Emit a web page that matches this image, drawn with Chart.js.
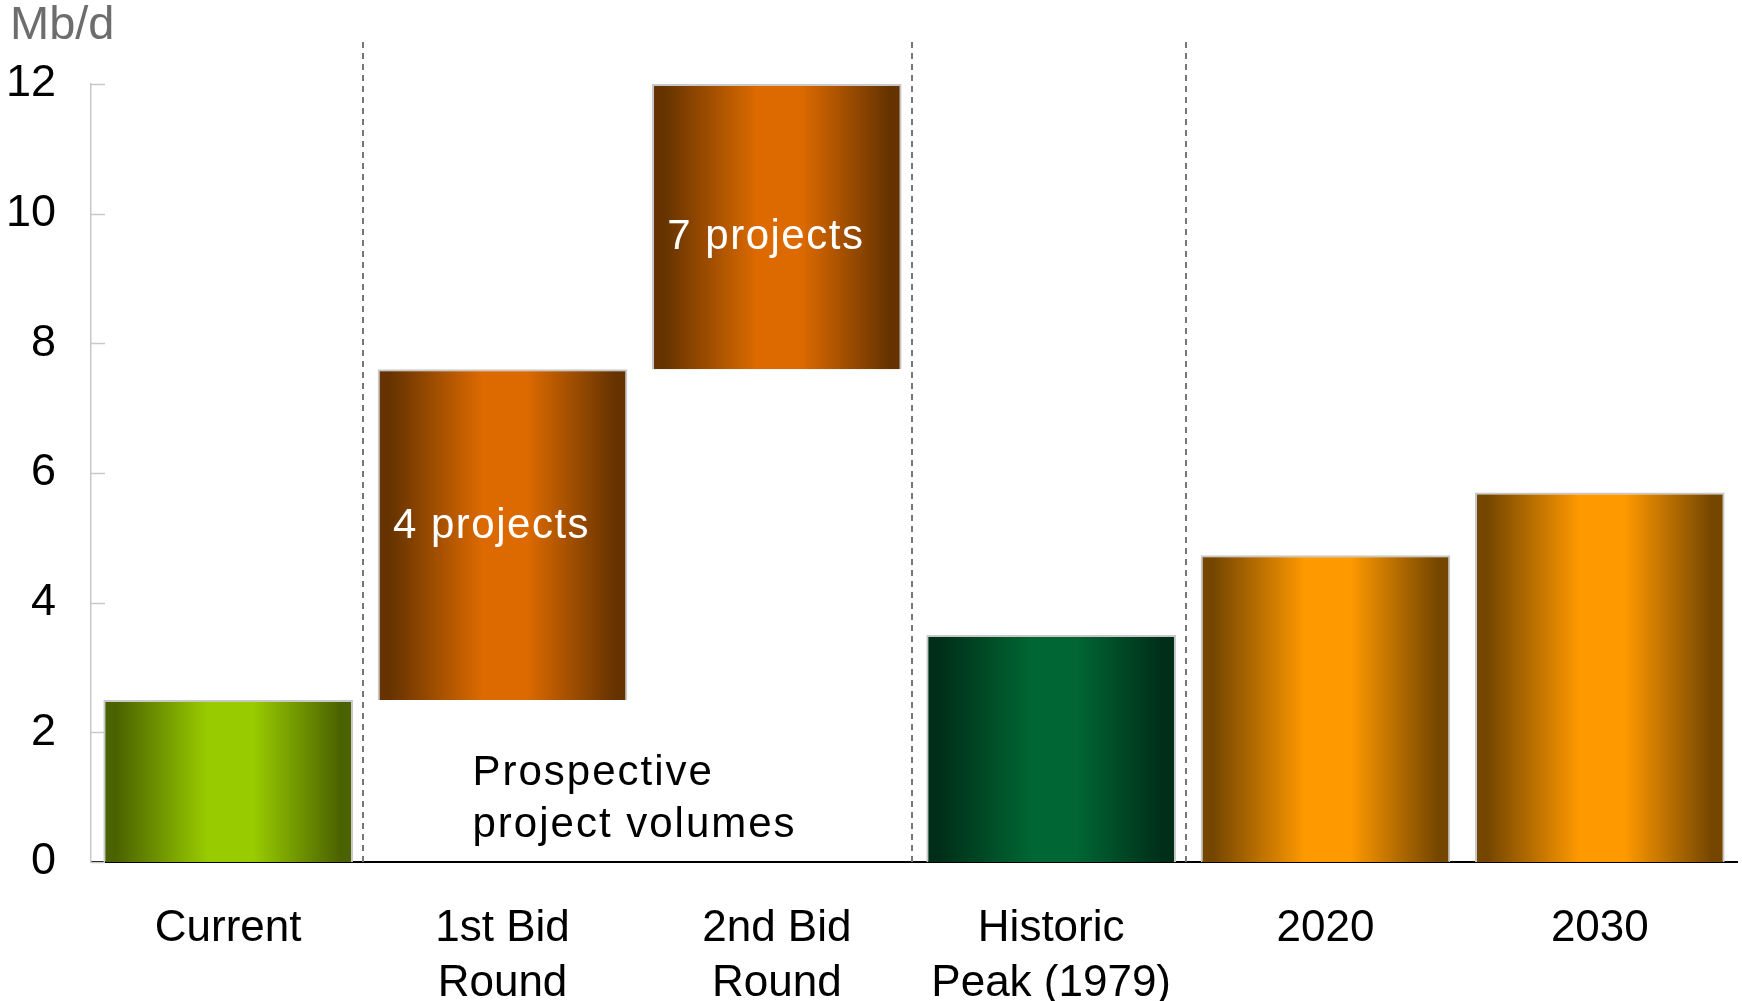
<!DOCTYPE html>
<html lang="en">
  <head>
    <meta charset="UTF-8" />
    <title>Mb/d</title>
    <script src="https://cdn.jsdelivr.net/npm/chart.js"></script>
    <style>
      html, body { margin: 0; padding: 0; background: #fff; }
      #wrap { width: 1742px; height: 1001px; }
    </style>
  </head>
  <body>
    <div id="wrap"><canvas id="myChart"></canvas></div>
    <script>
      // values (Mb/d)
      const categories = ["Current", ["1st Bid", "Round"], ["2nd Bid", "Round"], ["Historic", "Peak (1979)"], "2020", "2030"];
      const barStart = [0, 2.5, 7.6, 0, 0, 0];
      const barEnd = [2.5, 7.6, 12, 3.5, 4.73, 5.7];
      const barNotes = ["", "4 projects", "7 projects", "", "", ""];
      const yMin = 0, yMax = 12, yStep = 2;

      // dark edge / bright centre of each bar
      const barColours = [
        ["#4a6200", "#99cc00"],
        ["#663300", "#dc6a00"],
        ["#663300", "#dc6a00"],
        ["#002e18", "#006633"],
        ["#754600", "#ff9900"],
        ["#754600", "#ff9900"],
      ];

      const FONT = "'Liberation Sans', Arial, sans-serif";
      const catPct = 0.91;

      function barGradient(context) {
        const chart = context.chart;
        const xs = chart.scales.x;
        if (!xs || !chart.chartArea) return barColours[context.dataIndex][1];
        const i = context.dataIndex;
        const w = xs.width / categories.length * catPct;
        const cx = xs.getPixelForValue(i);
        const [dark, bright] = barColours[i];
        const g = chart.ctx.createLinearGradient(cx - w / 2, 0, cx + w / 2, 0);
        g.addColorStop(0, dark);
        g.addColorStop(0.05, dark);
        g.addColorStop(0.42, bright);
        g.addColorStop(0.6, bright);
        g.addColorStop(0.95, dark);
        g.addColorStop(1, dark);
        return g;
      }

      const extras = {
        id: "extras",
        beforeDatasetsDraw(chart) {
          const { ctx, chartArea, scales } = chart;
          const xs = scales.x, ys = scales.y;
          ctx.save();
          // inward tick marks on the y axis
          ctx.strokeStyle = "#c8c8c8";
          ctx.lineWidth = 1.5;
          for (let v = yMin; v <= yMax; v += yStep) {
            const y = Math.round(ys.getPixelForValue(v)) + 0.5;
            ctx.beginPath();
            ctx.moveTo(chartArea.left, y);
            ctx.lineTo(chartArea.left + 14, y);
            ctx.stroke();
          }
          // dashed separators between groups
          ctx.strokeStyle = "#777";
          ctx.lineWidth = 2;
          ctx.setLineDash([6, 5]);
          [0, 2, 3].forEach((i) => {
            const x = Math.round((xs.getPixelForValue(i) + xs.getPixelForValue(i + 1)) / 2) - 2;
            ctx.beginPath();
            ctx.moveTo(x, chartArea.top - 42);
            ctx.lineTo(x, chartArea.bottom);
            ctx.stroke();
          });
          ctx.restore();
        },
        afterDraw(chart) {
          const { ctx, chartArea, scales } = chart;
          const xs = scales.x, ys = scales.y;
          ctx.save();
          ctx.letterSpacing = "1.5px";
          ctx.font = "42px " + FONT;
          ctx.textBaseline = "middle";
          ctx.textAlign = "center";
          ctx.fillStyle = "#ffffff";
          barNotes.forEach((t, i) => {
            if (!t) return;
            const mid = (barStart[i] + barEnd[i]) / 2;
            const dy = i === 1 ? -8 : 11;
            ctx.fillText(t, xs.getPixelForValue(i) - 11, ys.getPixelForValue(mid) + dy);
          });
          ctx.fillStyle = "#000";
          ctx.textAlign = "left";
          ctx.letterSpacing = "2px";
          const px = xs.getPixelForValue(1) - 30;
          ctx.fillText("Prospective", px, ys.getPixelForValue(1.37));
          ctx.fillText("project volumes", px, ys.getPixelForValue(0.57));
          ctx.letterSpacing = "0px";
          ctx.font = "47px " + FONT;
          ctx.fillStyle = "#6d6d6d";
          ctx.textBaseline = "alphabetic";
          ctx.fillText("Mb/d", 10, chartArea.top - 45);
          ctx.restore();
        },
      };

      const ctx = document.getElementById("myChart").getContext("2d");
      const myChart = new Chart(ctx, {
        type: "bar",
        data: {
          labels: categories,
          datasets: [
            {
              data: barStart.map((s, i) => [s, barEnd[i]]),
              backgroundColor: barGradient,
              borderColor: "#c8c8c8",
              borderWidth: 2,
              borderSkipped: "start",
              categoryPercentage: catPct,
              barPercentage: 1,
            },
          ],
        },
        options: {
          responsive: true,
          maintainAspectRatio: false,
          animation: false,
          layout: { padding: { top: 84, right: 5, left: 0, bottom: 0 } },
          plugins: {
            legend: { display: false },
            tooltip: { enabled: false },
          },
          scales: {
            x: {
              grid: { display: false, drawTicks: false },
              border: { color: "#000", width: 2 },
              ticks: {
                color: "#000",
                font: { family: FONT, size: 44, lineHeight: 1.25 },
                padding: 39,
                maxRotation: 0,
                autoSkip: false,
              },
              afterFit(scale) { scale.height = 139; },
            },
            y: {
              min: yMin,
              max: yMax,
              grid: { display: false, drawTicks: false },
              border: { color: "#c8c8c8", width: 1.5 },
              ticks: {
                stepSize: yStep,
                color: "#000",
                font: { family: FONT, size: 45 },
                padding: 35,
              },
              afterFit(scale) { scale.width = 91; },
            },
          },
        },
        plugins: [extras],
      });
    </script>
  </body>
</html>
